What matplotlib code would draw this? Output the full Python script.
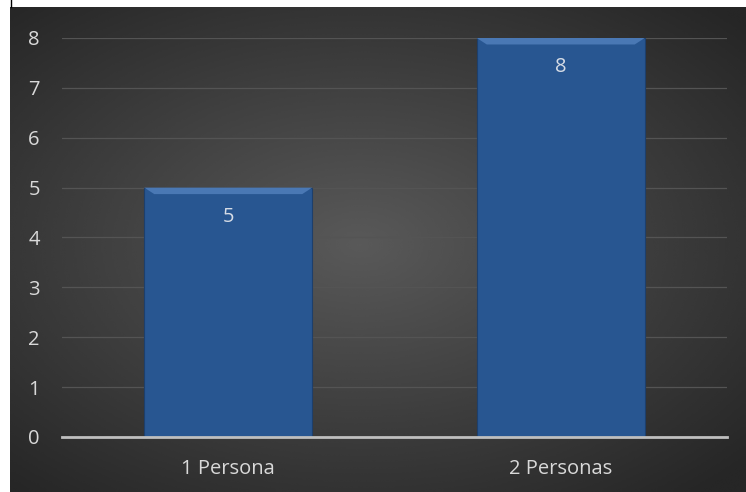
import numpy as np
import matplotlib.pyplot as plt
from matplotlib.patches import Polygon

plt.rcParams['font.family'] = ['Open Sans', 'DejaVu Sans']

# 数据
categories = ['1 Persona', '2 Personas']
values = [5, 8]
yticks = [0, 1, 2, 3, 4, 5, 6, 7, 8]

fig = plt.figure(figsize=(7.46, 4.92), dpi=100)
fig.patch.set_facecolor('white')

# 背景：径向渐变
bg = fig.add_axes([10 / 746, 0, 736 / 746, 485 / 492])
gx, gy = np.meshgrid(np.linspace(-1, 1, 400), np.linspace(-1, 1, 300))
r = np.sqrt(((gx + 0.05) * 0.95) ** 2 + (gy + 0.02) ** 2)
shade = 0.35 - 0.20 * np.clip(r / 1.35, 0, 1)
bg.imshow(shade, cmap='gray', vmin=0, vmax=1, aspect='auto',
          extent=[0, 1, 0, 1], interpolation='bicubic')
bg.set_axis_off()

ax = fig.add_axes([62 / 746, 55 / 492, 665 / 746, 399 / 492])
ax.set_facecolor('none')

x = np.arange(len(categories))
bars = ax.bar(x, values, width=0.505, color='#285691',
              edgecolor='#1d3f6c', linewidth=0.8, zorder=3)

# 斜面高光
for b in bars:
    x0, w, h = b.get_x(), b.get_width(), b.get_height()
    d = 0.03
    top = Polygon([[x0, h], [x0 + w, h], [x0 + w - d, h - 0.13], [x0 + d, h - 0.13]],
                  closed=True, facecolor='#4a78b4', edgecolor='none', zorder=4)
    ax.add_patch(top)

for b, v in zip(bars, values):
    ax.text(b.get_x() + b.get_width() / 2, v - 0.58, str(v), ha='center', va='center',
            color='#d6dce6', fontsize=14.5, zorder=5)

ax.set_xlim(-0.5, len(categories) - 0.5)
ax.set_ylim(0, 8)
ax.set_yticks(yticks)
ax.set_xticks(x)
ax.set_xticklabels(categories)
ax.tick_params(axis='both', length=0, colors='#d9d9d9', labelsize=14.5)
ax.tick_params(axis='x', pad=16)
ax.tick_params(axis='y', pad=16)

ax.grid(axis='y', color='#545454', linewidth=0.9, zorder=0)
ax.set_axisbelow(True)
for s in ['top', 'right', 'left']:
    ax.spines[s].set_visible(False)
ax.spines['bottom'].set_color('#bfbfbf')
ax.spines['bottom'].set_linewidth(2)
ax.spines['bottom'].set_zorder(6)

fig.add_artist(plt.Line2D([10.5 / 746, 10.5 / 746], [485 / 492, 1], color='black', linewidth=1))

plt.savefig('out.png', dpi=100)
